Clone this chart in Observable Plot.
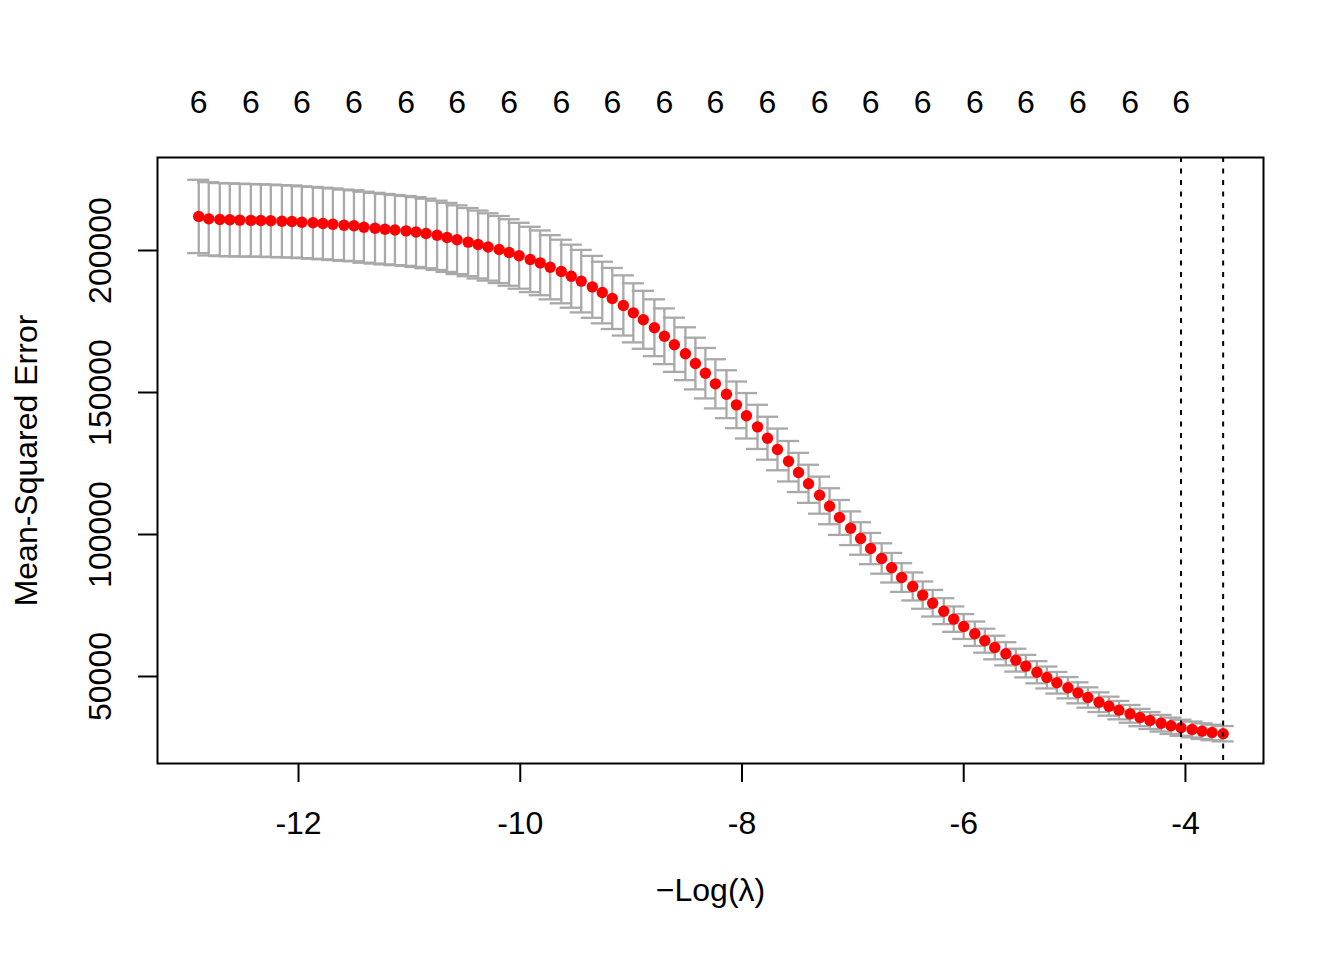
<!DOCTYPE html>
<html>
<head>
<meta charset="utf-8">
<script src="https://cdn.jsdelivr.net/npm/d3@7"></script>
<script src="https://cdn.jsdelivr.net/npm/@observablehq/plot@0.6"></script>
<style>
  html, body { margin: 0; padding: 0; background: #ffffff; }
  #chart { width: 1344px; height: 960px; }
</style>
</head>
<body>
<div id="chart"></div>
<script>
// -Log(lambda) for each of the 100 lambda values
const negLogLambda = [
  -12.90, -12.81, -12.71, -12.62, -12.53, -12.43, -12.34, -12.25, -12.15, -12.06,
  -11.97, -11.87, -11.78, -11.69, -11.59, -11.50, -11.41, -11.31, -11.22, -11.13,
  -11.03, -10.94, -10.85, -10.75, -10.66, -10.57, -10.47, -10.38, -10.29, -10.19,
  -10.10, -10.01, -9.91, -9.82, -9.73, -9.63, -9.54, -9.45, -9.35, -9.26,
  -9.17, -9.07, -8.98, -8.89, -8.79, -8.70, -8.61, -8.51, -8.42, -8.33,
  -8.24, -8.14, -8.05, -7.96, -7.86, -7.77, -7.68, -7.58, -7.49, -7.40,
  -7.30, -7.21, -7.12, -7.02, -6.93, -6.84, -6.74, -6.65, -6.56, -6.46,
  -6.37, -6.28, -6.18, -6.09, -6.00, -5.90, -5.81, -5.72, -5.62, -5.53,
  -5.44, -5.34, -5.25, -5.16, -5.06, -4.97, -4.88, -4.78, -4.69, -4.60,
  -4.50, -4.41, -4.32, -4.22, -4.13, -4.04, -3.94, -3.85, -3.76, -3.66
];

// Cross-validated mean-squared error
const cvm = [
  212000, 211150, 210900, 210800, 210700, 210600, 210550, 210450, 210300, 210200,
  209950, 209750, 209500, 209250, 208900, 208700, 208200, 207850, 207500, 207200,
  206900, 206500, 206000, 205350, 204600, 203800, 202950, 202100, 201250, 200350,
  199300, 198150, 196850, 195650, 194100, 192600, 190950, 189200, 187200, 185200,
  183100, 180650, 178050, 175600, 172800, 169800, 166800, 163650, 160200, 156800,
  153050, 149400, 145650, 141800, 137900, 133900, 129950, 125800, 121850, 117850,
  113850, 109950, 106000, 102200, 98600, 95050, 91550, 88300, 84850, 81700,
  78650, 75800, 73000, 70200, 67600, 65050, 62600, 60200, 58000, 55750,
  53650, 51500, 49650, 47800, 46050, 44250, 42600, 40950, 39550, 38150,
  36850, 35550, 34500, 33550, 32650, 31950, 31350, 30750, 30300, 29850
];

// Standard error of the CV estimate
const cvsd = [
  12900, 12900, 12850, 12850, 12800, 12800, 12750, 12750, 12700, 12700,
  12650, 12650, 12600, 12600, 12550, 12500, 12500, 12450, 12400, 12350,
  12300, 12300, 12250, 12200, 12150, 12100, 12000, 11950, 11850, 11800,
  11700, 11600, 11500, 11400, 11300, 11200, 11100, 11000, 10900, 10850,
  10750, 10600, 10400, 10200, 10000, 9800, 9550, 9300, 9100, 8880,
  8650, 8430, 8210, 8000, 7780, 7560, 7340, 7120, 6900, 6710,
  6520, 6330, 6150, 5930, 5720, 5500, 5350, 5200, 5060, 4930,
  4800, 4680, 4570, 4470, 4380, 4300, 4220, 4150, 4080, 4020,
  3960, 3900, 3850, 3800, 3750, 3700, 3580, 3460, 3350, 3230,
  3120, 3050, 2990, 2930, 2880, 2830, 2790, 2760, 2730, 2700
];

// Number of non-zero coefficients at each lambda
const nzero = Array.from({length: 100}, () => 6);

// Indices of the top labels that R keeps (non-overlapping)
const topLabelIdx = [0, 5, 10, 15, 20, 25, 30, 35, 40, 45, 50, 55, 60, 65, 70, 75, 80, 85, 90, 95];

// lambda.min and lambda.1se positions (in -log(lambda))
const lambdaLines = [-3.66, -4.04];

const xTicks = [-12, -10, -8, -6, -4];
const yTicks = [50000, 100000, 150000, 200000];
const xLabel = "\u2212Log(\u03bb)";
const yLabel = "Mean-Squared Error";

const rows = negLogLambda.map((x, i) => ({
  x, mse: cvm[i], up: cvm[i] + cvsd[i], lo: cvm[i] - cvsd[i], nz: nzero[i]
}));
const topRows = topLabelIdx.map(i => rows[i]);

const barW = 0.0998; // error bar cap half-width in x units
const font = "'Liberation Sans', Arial, Helvetica, sans-serif";

const chart = Plot.plot({
  width: 1344,
  height: 960,
  marginLeft: 157,
  marginRight: 81,
  marginTop: 157,
  marginBottom: 197,
  style: {fontFamily: font, fontSize: "32px", background: "#ffffff", color: "#000000"},
  x: {domain: [-13.272, -3.296]},
  y: {domain: [19367, 232745]},
  marks: [
    Plot.axisX({ticks: xTicks, tickSize: 19, tickPadding: 29, strokeWidth: 2,
      tickFormat: d => String(d), label: null, fill: "#000"}),
    Plot.axisY({ticks: yTicks, tickSize: 19, strokeWidth: 2,
      tickFormat: () => "", label: null}),
    Plot.text(yTicks, {y: d => d, text: d => String(d), frameAnchor: "left", dx: -57,
      rotate: -90, textAnchor: "middle", lineAnchor: "middle", fill: "#000"}),
    Plot.text([yLabel], {text: d => d, frameAnchor: "left", dx: -131,
      rotate: -90, textAnchor: "middle", lineAnchor: "middle", fill: "#000"}),
    Plot.text([xLabel], {text: d => d, frameAnchor: "bottom", dy: 127,
      textAnchor: "middle", lineAnchor: "middle", fill: "#000"}),
    Plot.text(topRows, {x: "x", text: d => String(d.nz), frameAnchor: "top", dy: -55,
      textAnchor: "middle", lineAnchor: "middle", fill: "#000"}),
    // error bars
    Plot.ruleX(rows, {x: "x", y1: "lo", y2: "up", stroke: "#A9A9A9", strokeWidth: 2.3}),
    Plot.ruleY(rows, {y: "up", x1: d => d.x - barW, x2: d => d.x + barW, stroke: "#A9A9A9", strokeWidth: 2.3}),
    Plot.ruleY(rows, {y: "lo", x1: d => d.x - barW, x2: d => d.x + barW, stroke: "#A9A9A9", strokeWidth: 2.3}),
    // points
    Plot.dot(rows, {x: "x", y: "mse", r: 5.7, fill: "#FF0000", stroke: "none"}),
    // lambda.min / lambda.1se
    Plot.ruleX(lambdaLines, {x: d => d, stroke: "#000", strokeWidth: 2, strokeDasharray: "5,6.5"}),
    Plot.frame({stroke: "#000", strokeWidth: 2})
  ]
});

document.getElementById("chart").appendChild(chart);
</script>
</body>
</html>
